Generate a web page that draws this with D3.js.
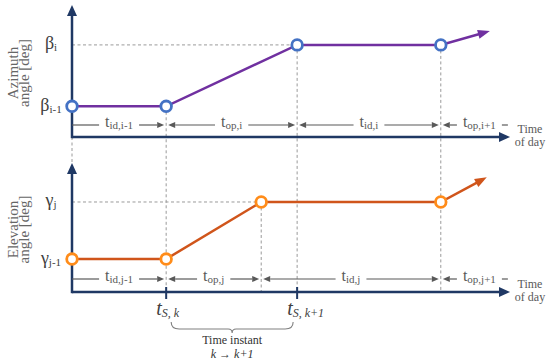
<!DOCTYPE html>
<html><head><meta charset="utf-8">
<script src="https://cdn.jsdelivr.net/npm/d3@7"></script>
<style>html,body{margin:0;padding:0;background:#fff}svg{display:block}
svg text{font-family:"Liberation Serif","Times New Roman",Times,serif}</style>
</head><body>
<svg id="c" width="550" height="363"></svg>
<script>
// ---- data (schematic time units / angle units) ----
const azTimes = [0, 2.15, 5.14, 8.42];
const azValues = [1, 1, 3, 3];
const azArrowEnd = [9.54, 3.45];
const azLevels = [{v:1, base:"β", sub:"i-1"}, {v:3, base:"β", sub:"i"}];
const azSpans = [[0, 2.15, "id,i-1"], [2.15, 5.14, "op,i"], [5.14, 8.42, "id,i"], [8.42, null, "op,i+1"]];

const elTimes = [0, 2.15, 4.32, 8.42];
const elValues = [1.15, 1.15, 3.14, 3.14];
const elArrowEnd = [9.47, 4.0];
const elLevels = [{v:1.15, base:"γ", sub:"j-1"}, {v:3.14, base:"γ", sub:"j"}];
const elSpans = [[0, 2.15, "id,j-1"], [2.15, 4.32, "op,j"], [4.32, 8.42, "id,j"], [8.42, null, "op,j+1"]];

const switchTimes = [2.15, 5.14];
const switchLabels = ["S, k", "S, k+1"];

// ---- layout ----
const svg = d3.select("#c");
const x = d3.scaleLinear().domain([0, 10]).range([72, 510]);
const yTop = d3.scaleLinear().domain([0, 4.3]).range([137, 5]);
const yBot = d3.scaleLinear().domain([0, 4.5]).range([292, 163]);

const NAVY = "#1f3864", GRAY = "#595959", DASH = "#9a9a9a";

// dashed guides
const g0 = svg.append("g").attr("stroke", DASH).attr("stroke-width", 1).attr("stroke-dasharray", "3,2.5").attr("fill", "none");
function vdash(t, y1, y2){ g0.append("line").attr("x1", x(t)).attr("x2", x(t)).attr("y1", y1).attr("y2", y2); }
vdash(0, yTop(0), yBot.range()[1]);
vdash(azTimes[1], yTop(azValues[1]), yBot(0));
vdash(azTimes[2], yTop(azValues[2]), yBot(0));
vdash(azTimes[3], yTop(azValues[3]), yBot(0));
vdash(elTimes[2], yBot(elValues[2]), yBot(0));
g0.append("line").attr("x1", x(0)).attr("x2", x(azTimes[2])).attr("y1", yTop(azValues[2])).attr("y2", yTop(azValues[2]));
g0.append("line").attr("x1", x(0)).attr("x2", x(elTimes[2])).attr("y1", yBot(elValues[2])).attr("y2", yBot(elValues[2]));

function tri(g, tipX, tipY, angle, len, wid, color){
  const c = Math.cos(angle), s = Math.sin(angle);
  const bx = tipX - c*len, by = tipY - s*len;
  const pts = [[tipX, tipY], [bx - s*wid/2, by + c*wid/2], [bx + s*wid/2, by - c*wid/2]];
  g.append("path").attr("d", "M" + pts.map(p => p.join(",")).join("L") + "Z").attr("fill", color);
}

function panel(y, times, values, arrowEnd, levels, spans, lineColor, circColor, label1, label2, spanY, todY){
  const g = svg.append("g");
  const y0 = y(0), yT = y.range()[1];
  // axes
  g.append("line").attr("x1", x(0)).attr("x2", x(10) - 8).attr("y1", y0).attr("y2", y0).attr("stroke", NAVY).attr("stroke-width", 2.5);
  tri(g, x(10), y0, 0, 11, 10, NAVY);
  g.append("line").attr("x1", x(0)).attr("x2", x(0)).attr("y1", y0 + 1.2).attr("y2", yT + 8).attr("stroke", NAVY).attr("stroke-width", 2.5);
  tri(g, x(0), yT, -Math.PI/2, 11, 10, NAVY);
  // data line
  const pts = times.map((t, i) => [x(t), y(values[i])]);
  const ex = x(arrowEnd[0]), ey = y(arrowEnd[1]);
  const last = pts[pts.length - 1];
  const ang = Math.atan2(ey - last[1], ex - last[0]);
  const stopX = ex - Math.cos(ang)*8, stopY = ey - Math.sin(ang)*8;
  g.append("path").attr("d", d3.line()(pts.concat([[stopX, stopY]]))).attr("fill", "none").attr("stroke", lineColor).attr("stroke-width", 2.5);
  tri(g, ex, ey, ang, 12, 9, lineColor);
  g.selectAll("circle.p").data(pts).join("circle").attr("class", "p")
    .attr("cx", d => d[0]).attr("cy", d => d[1]).attr("r", 5.3)
    .attr("fill", "#fff").attr("stroke", circColor).attr("stroke-width", 2.8);
  // level labels
  levels.forEach(l => {
    const t = g.append("text").attr("x", 51).attr("y", y(l.v) + 4.5).attr("text-anchor", "middle").attr("fill", "#404040");
    t.append("tspan").attr("font-size", 18).text(l.base);
    t.append("tspan").attr("font-size", 11).attr("dy", 2).text(l.sub);
  });
  // y axis title
  const cy = (y0 + yT) / 2 + 2;
  [[label1, 18], [label2, 29]].forEach(([s, bx]) => {
    g.append("text").attr("transform", `translate(${bx},${cy}) rotate(-90)`).attr("text-anchor", "middle")
      .attr("font-size", 15).attr("fill", "#666").text(s);
  });
  // time of day
  g.append("text").attr("x", 530).attr("y", todY).attr("font-size", 12).attr("fill", GRAY).attr("text-anchor", "middle").text("Time");
  g.append("text").attr("x", 530).attr("y", todY + 13).attr("font-size", 12).attr("fill", GRAY).attr("text-anchor", "middle").text("of day");
  // spans
  spans.forEach(([a, b, sub]) => {
    const xa = x(a), xb = b === null ? x(10) + 8 : x(b);
    const cx = (xa + xb) / 2;
    const t = g.append("text").attr("x", cx).attr("y", spanY + 2).attr("text-anchor", "middle").attr("fill", GRAY);
    t.append("tspan").attr("font-size", 16).text("t");
    t.append("tspan").attr("font-size", 11).attr("dy", 2).text(sub);
    const bb = t.node().getBBox();
    const gap = 6;
    const l1 = bb.x - gap, r1 = bb.x + bb.width + gap;
    const ah = 7;
    g.append("line").attr("x1", a === 0 ? xa : xa + 2 + ah).attr("x2", l1).attr("y1", spanY).attr("y2", spanY).attr("stroke", GRAY).attr("stroke-width", 1.2);
    if (a !== 0) tri(g, xa + 2, spanY, Math.PI, ah, 6, GRAY);
    if (b === null) {
      g.append("line").attr("x1", r1).attr("x2", r1 + 6).attr("y1", spanY).attr("y2", spanY).attr("stroke", GRAY).attr("stroke-width", 1.2);
    } else {
      g.append("line").attr("x1", r1).attr("x2", xb - 2 - ah).attr("y1", spanY).attr("y2", spanY).attr("stroke", GRAY).attr("stroke-width", 1.2);
      tri(g, xb - 2, spanY, 0, ah, 6, GRAY);
    }
  });
}

panel(yTop, azTimes, azValues, azArrowEnd, azLevels, azSpans, "#7030a0", "#4472c4", "Azimuth", "angle [deg]", 125, 133);
panel(yBot, elTimes, elValues, elArrowEnd, elLevels, elSpans, "#d0551b", "#ff8c1a", "Elevation", "angle [deg]", 279, 288);

// switch instants on bottom axis
const gs = svg.append("g");
switchTimes.forEach((t, i) => {
  gs.append("line").attr("x1", x(t)).attr("x2", x(t)).attr("y1", yBot(0) - 5).attr("y2", yBot(0) + 7).attr("stroke", NAVY).attr("stroke-width", 2);
  const tx = gs.append("text").attr("x", x(t) - 10).attr("y", 315).attr("font-style", "italic").attr("fill", "#404040");
  tx.append("tspan").attr("font-size", 20).text("t");
  tx.append("tspan").attr("font-size", 12).attr("dy", 2).text(switchLabels[i]);
});
// brace
const bl = x(switchTimes[0]) + 5, br = x(switchTimes[1]) - 4, bm = (bl + br) / 2, by = 329;
gs.append("path").attr("d",
  `M${bl},${by-7} Q${bl},${by} ${bl+8},${by} L${bm-4},${by} Q${bm},${by} ${bm},${by+4} Q${bm},${by} ${bm+4},${by} L${br-8},${by} Q${br},${by} ${br},${by-7}`)
  .attr("fill", "none").attr("stroke", "#808080").attr("stroke-width", 1.1);
gs.append("text").attr("x", bm).attr("y", 344).attr("font-size", 12).attr("fill", "#333").attr("text-anchor", "middle").text("Time instant");
gs.append("text").attr("x", bm).attr("y", 358).attr("font-size", 12).attr("font-style", "italic").attr("fill", "#333").attr("text-anchor", "middle").text("k → k+1");
</script>
</body></html>
